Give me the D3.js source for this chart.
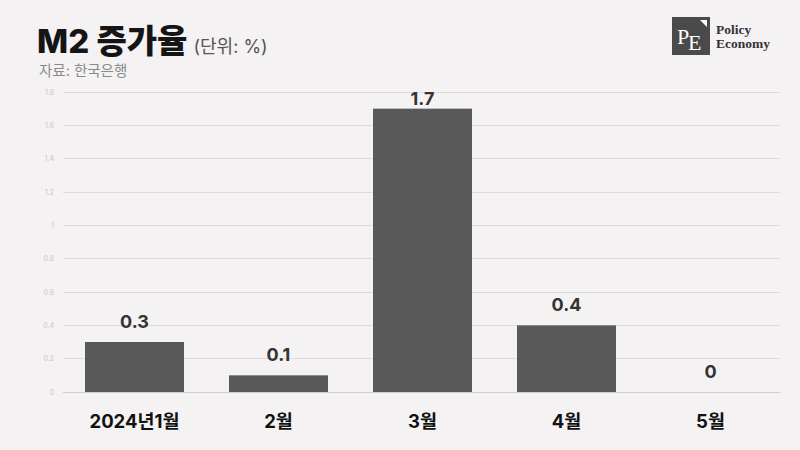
<!DOCTYPE html>
<html><head><meta charset="utf-8">
<script src="https://cdn.jsdelivr.net/npm/d3@7"></script>
<style>
html,body{margin:0;padding:0;background:#f4f2f3;}
svg{display:block;}
</style></head>
<body>
<script>
const categories = ["2024년1월", "2월", "3월", "4월", "5월"];
const values = [0.3, 0.1, 1.7, 0.4, 0];
const yTicks = [0, 0.2, 0.4, 0.6, 0.8, 1, 1.2, 1.4, 1.6, 1.8];

const W = 800, H = 450;
const svg = d3.select("body").append("svg").attr("width", W).attr("height", H);
svg.append("rect").attr("width", W).attr("height", H).attr("fill", "#f4f2f3");

const font = "Inter, 'Noto Sans CJK KR', 'Noto Sans', sans-serif";

const x = d3.scaleBand().domain(categories).range([62.5, 782.5])
  .paddingInner(0.3125).paddingOuter(0.15625);
const y = d3.scaleLinear().domain([0, 1.8]).range([392, 92]);

// gridlines
const grid = svg.append("g");
grid.selectAll("line").data(yTicks).join("line")
  .attr("x1", 63).attr("x2", 780)
  .attr("y1", d => y(d)).attr("y2", d => y(d))
  .attr("stroke", d => d === 0 ? "#cfcfcf" : "#dcdcdc").attr("stroke-width", 1)
  .attr("shape-rendering", "crispEdges");

// y-axis labels
const yAxis = d3.axisLeft(y).tickValues(yTicks).tickSize(0).tickPadding(0).tickFormat(d => String(d));
const yg = svg.append("g").attr("transform", "translate(54,0)").call(yAxis);
yg.select(".domain").remove();
yg.selectAll("text").attr("font-family", font).attr("font-size", 7).attr("fill", "#c8c8c8");

// bars
svg.append("g").selectAll("rect").data(categories).join("rect")
  .attr("x", d => x(d)).attr("width", x.bandwidth())
  .attr("y", (d, i) => y(values[i])).attr("height", (d, i) => y(0) - y(values[i]))
  .attr("fill", "#595959");

// value labels
svg.append("g").selectAll("text").data(categories).join("text")
  .attr("x", d => x(d) + x.bandwidth() / 2)
  .attr("y", (d, i) => Math.max(y(values[i]) - 14, 105))
  .attr("text-anchor", "middle")
  .attr("font-family", font).attr("font-weight", 700).attr("font-size", 18)
  .attr("fill", "#333").text((d, i) => String(values[i]));

// x-axis labels
const xAxis = d3.axisBottom(x).tickSize(0).tickPadding(0);
const xg = svg.append("g").attr("transform", "translate(0,428)").call(xAxis);
xg.select(".domain").remove();
xg.selectAll("text").attr("font-family", font).attr("font-weight", 700).attr("font-size", 18.5)
  .attr("fill", "#111").attr("dy", "0");

// title
const t = svg.append("text").attr("x", 37).attr("y", 53).attr("font-family", font);
t.append("tspan").attr("font-size", 33).attr("font-weight", 800).attr("fill", "#151515").text("M2 증가율");
t.append("tspan").attr("dx", 6).attr("font-size", 18).attr("fill", "#555").text("(단위: %)");
svg.append("text").attr("x", 39).attr("y", 76).attr("font-family", font).attr("font-size", 14.5)
  .attr("fill", "#8a8a8a").text("자료: 한국은행");

// logo
const lg = svg.append("g");
lg.append("rect").attr("x", 672).attr("y", 17).attr("width", 38).attr("height", 38).attr("fill", "#4a4a4a");
lg.append("path").attr("d", "M700,20 L707,20 L707,27 Z").attr("fill", "#fff");
lg.append("text").attr("x", 677).attr("y", 44).attr("font-family", "'Liberation Serif', serif")
  .attr("font-size", 22).attr("fill", "#fff").text("P");
lg.append("text").attr("x", 688).attr("y", 50).attr("font-family", "'Liberation Serif', serif")
  .attr("font-size", 22).attr("fill", "#fff").text("E");
lg.append("text").attr("x", 716).attr("y", 34).attr("font-family", "'Liberation Serif', serif")
  .attr("font-size", 13.5).attr("font-weight", 700).attr("fill", "#333").text("Policy");
lg.append("text").attr("x", 716).attr("y", 48).attr("font-family", "'Liberation Serif', serif")
  .attr("font-size", 13.5).attr("font-weight", 700).attr("fill", "#333").text("Economy");
</script>
</body></html>
